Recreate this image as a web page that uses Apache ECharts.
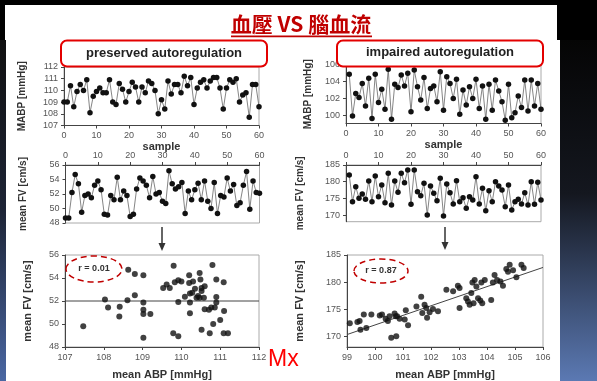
<!DOCTYPE html>
<html>
<head>
<meta charset="utf-8">
<script src="https://cdn.jsdelivr.net/npm/echarts@6/dist/echarts.min.js"></script>
<style>
html, body { margin: 0; padding: 0; background: #000; }
#chart { width: 597px; height: 381px; }
</style>
</head>
<body>
<div id="chart"></div>
<script>
// ---- data ----
// MABP per sample, preserved autoregulation (samples 0..60)
const mabpPreserved = [109.0, 109.0, 110.4, 108.6, 109.9, 110.5, 110.0, 110.9, 108.1, 109.5,
  109.9, 110.2, 109.8, 109.8, 110.9, 109.0, 108.8, 110.6, 110.1, 109.0,
  109.9, 110.7, 110.3, 109.0, 110.3, 109.8, 110.8, 110.6, 110.0, 108.0,
  109.2, 108.4, 110.8, 109.7, 110.5, 110.5, 109.8, 111.2, 110.4, 111.1,
  108.8, 110.2, 110.7, 110.9, 110.2, 110.8, 111.1, 111.1, 110.2, 108.4,
  110.2, 110.9, 110.7, 111.0, 109.0, 109.6, 109.8, 107.7, 110.5, 110.5, 108.6];
// mean FV per sample, preserved autoregulation (samples 0..60)
const fvPreserved = [48.7, 48.7, 52.2, 54.7, 53.4, 49.5, 51.8, 52.0, 51.5, 53.2,
  53.8, 52.6, 49.2, 49.1, 51.8, 51.2, 54.3, 51.2, 52.4, 51.8,
  48.9, 49.2, 52.7, 54.2, 53.8, 53.2, 51.5, 54.4, 52.0, 52.2,
  51.0, 50.7, 55.2, 53.4, 52.7, 53.0, 53.6, 49.3, 52.4, 51.2,
  52.6, 53.5, 51.2, 53.8, 51.0, 50.0, 53.6, 49.3, 51.8, 51.6,
  54.2, 52.4, 53.3, 50.4, 50.8, 53.2, 55.1, 49.9, 53.8, 52.2, 52.1];
// MABP per sample, impaired autoregulation (samples 1..60)
const mabpImpaired = [104.9, 99.9, 102.6, 102.1, 103.8, 101.1, 104.4, 99.6, 104.9, 101.5,
  103.1, 100.7, 105.5, 99.5, 103.7, 103.3, 104.8, 103.5, 105.0, 100.4,
  105.4, 103.4, 101.8, 104.5, 100.8, 103.2, 103.5, 101.6, 105.2, 100.6,
  104.6, 103.8, 102.0, 104.3, 100.1, 103.0, 101.2, 103.4, 102.0, 104.3,
  100.8, 103.5, 99.5, 103.7, 100.6, 104.2, 102.9, 101.6, 99.4, 103.7,
  99.7, 100.3, 102.3, 100.9, 104.2, 100.5, 104.2, 101.1, 103.8, 100.7];
// mean FV per sample, impaired autoregulation (samples 1..60)
const fvImpaired = [182.0, 174.0, 178.5, 175.0, 176.3, 174.7, 180.2, 174.0, 181.7, 175.5,
  179.0, 173.7, 182.5, 173.0, 180.2, 176.8, 182.5, 179.7, 183.5, 173.2,
  183.5, 177.0, 175.8, 179.5, 170.0, 178.7, 176.5, 174.3, 181.0, 169.7,
  179.3, 176.7, 173.3, 180.3, 174.0, 175.2, 172.0, 175.5, 174.5, 181.5,
  173.3, 178.0, 171.3, 177.3, 174.0, 180.0, 178.7, 177.5, 172.5, 179.0,
  171.5, 174.0, 174.7, 173.3, 176.7, 173.0, 180.0, 173.2, 179.8, 174.5];

// scatter: mean ABP vs mean FV, preserved
const abpPreserved = [107.47, 108.03, 108.11, 108.4, 108.41, 108.61, 108.63, 108.8, 108.8, 109.02,
  109.02, 109.02, 109.02, 109.02, 109.2, 109.53, 109.62, 109.7, 109.8, 109.83,
  109.92, 109.92, 109.79, 109.92, 110.0, 110.09, 110.2, 110.2, 110.22, 110.22,
  110.22, 110.28, 110.3, 110.35, 110.39, 110.43, 110.47, 110.47, 110.49, 110.52,
  110.52, 110.52, 110.58, 110.6, 110.6, 110.71, 110.73, 110.77, 110.8, 110.82,
  110.86, 110.9, 110.9, 110.9, 111.0, 111.09, 111.1, 111.09, 111.2];
const meanFvPreserved = [49.8, 52.14, 51.43, 50.66, 51.51, 52.06, 54.71, 52.51, 54.34, 54.23,
  51.86, 51.23, 50.86, 48.8, 50.86, 53.14, 53.43, 53.14, 55.06, 53.63,
  53.8, 51.91, 49.2, 48.94, 53.7, 52.37, 54.23, 53.57, 52.66, 51.86,
  50.94, 52.71, 53.7, 53.06, 52.29, 52.43, 52.29, 54.43, 53.86, 52.86,
  53.14, 49.51, 52.29, 53.29, 51.29, 51.23, 49.2, 51.43, 55.14, 50.0,
  51.43, 53.86, 52.34, 51.86, 50.34, 53.63, 51.14, 49.2, 49.2];
// scatter: mean ABP vs mean FV, impaired
const abpImpaired = [99.1, 99.37, 99.45, 99.48, 99.6, 99.69, 99.87, 100.17, 100.25, 100.38,
  100.46, 100.52, 100.58, 100.7, 100.74, 100.76, 100.79, 100.88, 101.06, 101.1,
  101.18, 101.48, 101.65, 101.69, 101.77, 101.83, 101.86, 101.95, 102.07, 102.25,
  102.55, 102.79, 102.96, 103.02, 103.02, 103.26, 103.32, 103.38, 103.44, 103.48,
  103.52, 103.56, 103.62, 103.68, 103.76, 103.8, 103.83, 103.92, 104.15, 104.21,
  104.27, 104.36, 104.48, 104.57, 104.69, 104.75, 104.81, 104.93, 105.05, 105.23, 105.31];
const meanFvImpaired = [172.4, 172.6, 172.8, 171.2, 174.0, 171.5, 174.0, 173.8, 174.0, 173.2,
  172.8, 173.7, 169.7, 174.2, 173.7, 170.0, 173.7, 173.2, 173.1, 174.8,
  172.0, 175.5, 177.3, 174.3, 175.8, 175.2, 173.4, 174.4, 175.0, 174.6,
  178.6, 178.3, 179.3, 178.9, 175.2, 177.0, 176.4, 175.8, 178.0, 179.9,
  176.1, 180.4, 179.2, 177.0, 176.6, 179.9, 176.1, 180.4, 176.7, 179.9,
  181.3, 180.4, 180.1, 179.3, 182.4, 181.9, 183.2, 182.2, 180.9, 183.2, 182.6];

// reference lines: mean level (preserved) and regression fit (impaired)
const meanLinePreserved = { abp: [107, 112], fv: [52, 52] };
const fitLineImpaired = { abp: [99, 106], fv: [170.3, 182.7] };

const corrPreserved = 'r = 0.01';
const corrImpaired = 'r = 0.87';

// tick values
const sampleTicks = { min: 0, max: 60, interval: 10 };
const impairedMabpTicks = [100, 102, 104, 106];
const impairedFvTicks = [170, 175, 180, 185];

// ---- helpers ----
const pairs = (xs, ys) => xs.map((x, i) => [x, ys[i]]);
const indexed = (vals, start) => vals.map((v, i) => [start + i, v]);

const SANS = 'Liberation Sans, Arial, sans-serif';
const tickLabel = { fontFamily: SANS, fontSize: 9, color: '#555', margin: 6 };
const nameStyle = { fontFamily: SANS, fontSize: 11, fontWeight: 'bold', color: '#333' };
const nameStyleSmall = Object.assign({}, nameStyle, { fontSize: 10 });

function axis(extra) {
  const a = {
    type: 'value',
    nameLocation: 'middle',
    nameTextStyle: nameStyle,
    axisLine: { show: true, onZero: false, lineStyle: { color: '#444', width: 1 } },
    axisTick: { show: true, length: 3, lineStyle: { color: '#444' } },
    axisLabel: Object.assign({}, tickLabel),
    splitLine: { show: false }
  };
  for (const k in extra) {
    if (typeof extra[k] === 'object' && !Array.isArray(extra[k]) && a[k]) {
      a[k] = Object.assign({}, a[k], extra[k]);
    } else {
      a[k] = extra[k];
    }
  }
  return a;
}

const gridBase = { show: true, borderColor: '#aaa', borderWidth: 1, backgroundColor: 'transparent' };
const grids = [
  Object.assign({ left: 64, top: 67, width: 195, height: 58.5 }, gridBase),
  Object.assign({ left: 65.5, top: 165, width: 194, height: 58 }, gridBase),
  Object.assign({ left: 65, top: 255, width: 194, height: 93 }, gridBase),
  Object.assign({ left: 346, top: 65, width: 195, height: 58.5 }, gridBase),
  Object.assign({ left: 346, top: 165, width: 195, height: 56.7 }, gridBase),
  Object.assign({ left: 347, top: 255, width: 196, height: 92.5 }, gridBase)
];

const xAxes = [
  axis({ gridIndex: 0, min: sampleTicks.min, max: sampleTicks.max, interval: sampleTicks.interval, name: 'sample', nameGap: 14 }),
  axis({ gridIndex: 1, position: 'top', min: sampleTicks.min, max: sampleTicks.max, interval: sampleTicks.interval, axisLabel: { margin: 5 } }),
  axis({ gridIndex: 2, min: 107, max: 112, interval: 1, name: 'mean ABP [mmHg]', nameGap: 22 }),
  axis({ gridIndex: 3, min: sampleTicks.min, max: sampleTicks.max, interval: sampleTicks.interval, name: 'sample', nameGap: 14 }),
  axis({ gridIndex: 4, position: 'top', min: sampleTicks.min, max: sampleTicks.max, interval: sampleTicks.interval, axisLabel: { margin: 5 } }),
  axis({ gridIndex: 5, min: 99, max: 106, interval: 1, name: 'mean ABP [mmHg]', nameGap: 22 })
];

const yAxes = [
  axis({ gridIndex: 0, min: 107, max: 112, interval: 1, name: 'MABP [mmHg]', nameGap: 37, nameTextStyle: nameStyleSmall }),
  axis({ gridIndex: 1, min: 48, max: 56, interval: 2, name: 'mean FV [cm/s]', nameGap: 37, nameTextStyle: nameStyleSmall }),
  axis({ gridIndex: 2, min: 48, max: 56, interval: 2, name: 'mean FV [cm/s]', nameGap: 32 }),
  axis({ gridIndex: 3, min: 99, max: 106, name: 'MABP [mmHg]', nameGap: 33, nameTextStyle: nameStyleSmall,
    axisLabel: { customValues: impairedMabpTicks }, axisTick: { customValues: impairedMabpTicks } }),
  axis({ gridIndex: 4, min: 168, max: 185, name: 'mean FV [cm/s]', nameGap: 41, nameTextStyle: nameStyleSmall,
    axisLabel: { customValues: impairedFvTicks }, axisTick: { customValues: impairedFvTicks } }),
  axis({ gridIndex: 5, min: 168, max: 185, name: 'mean FV [cm/s]', nameGap: 42,
    axisLabel: { customValues: impairedFvTicks }, axisTick: { customValues: impairedFvTicks } })
];

function traceSeries(idx, data) {
  return {
    type: 'line', xAxisIndex: idx, yAxisIndex: idx, data,
    symbol: 'circle', symbolSize: 5.5, showAllSymbol: true,
    lineStyle: { color: '#666', width: 0.8 },
    itemStyle: { color: '#111' },
    silent: true, animation: false
  };
}
function scatterSeries(idx, data) {
  return {
    type: 'scatter', xAxisIndex: idx, yAxisIndex: idx, data,
    symbolSize: 6, itemStyle: { color: '#111' }, silent: true, animation: false
  };
}
function refLine(idx, line) {
  return {
    type: 'line', xAxisIndex: idx, yAxisIndex: idx, data: pairs(line.abp, line.fv),
    symbol: 'none', lineStyle: { color: '#444', width: 1 }, silent: true, animation: false, z: 1
  };
}

// ---- page decoration: slide background, headings, arrows ----
const graphics = [
  // slide surface
  { type: 'rect', z: -10, shape: { x: 5, y: 5, width: 552, height: 36 }, style: { fill: '#fff' } },
  { type: 'rect', z: -10, shape: { x: 6, y: 40, width: 554, height: 341 }, style: { fill: '#fff' } },
  { type: 'rect', z: -10, shape: { x: 0, y: 40, width: 6, height: 341 },
    style: { fill: new echarts.graphic.LinearGradient(0, 0, 0, 1, [
      { offset: 0, color: '#101010' }, { offset: 0.5, color: '#1d2436' }, { offset: 1, color: '#4a67a3' }]) } },
  { type: 'rect', z: -10, shape: { x: 560, y: 40, width: 37, height: 341 },
    style: { fill: new echarts.graphic.LinearGradient(0, 0, 0, 1, [
      { offset: 0, color: '#050505' }, { offset: 0.45, color: '#14171f' }, { offset: 1, color: '#5b79b3' }]) } },
  // heading
  { type: 'text', z: 10, style: { text: '血壓 VS 腦血流', x: 301, y: 24, align: 'center', verticalAlign: 'middle',
      font: 'bold 21px "Noto Sans CJK TC"', fill: '#c00000' } },
  { type: 'rect', z: 10, shape: { x: 231, y: 35.5, width: 141, height: 1.8 }, style: { fill: '#c00000' } },
  // panel headings
  { type: 'rect', z: 10, shape: { x: 61, y: 40.5, width: 206, height: 26, r: 6 },
    style: { fill: '#fff', stroke: '#e30000', lineWidth: 2 } },
  { type: 'text', z: 11, style: { text: 'preserved autoregulation', x: 164, y: 53, align: 'center', verticalAlign: 'middle',
      font: 'bold 13px "Liberation Sans"', fill: '#222' } },
  { type: 'rect', z: 10, shape: { x: 337, y: 40.5, width: 206, height: 26, r: 6 },
    style: { fill: '#fff', stroke: '#e30000', lineWidth: 2 } },
  { type: 'text', z: 11, style: { text: 'impaired autoregulation', x: 440, y: 52, align: 'center', verticalAlign: 'middle',
      font: 'bold 13px "Liberation Sans"', fill: '#222' } },
  // arrows between rows
  { type: 'line', z: 10, shape: { x1: 162, y1: 227, x2: 162, y2: 245 }, style: { stroke: '#333', lineWidth: 1.5 } },
  { type: 'polygon', z: 10, shape: { points: [[158.5, 243], [165.5, 243], [162, 251]] }, style: { fill: '#333' } },
  { type: 'line', z: 10, shape: { x1: 445, y1: 227, x2: 445, y2: 244 }, style: { stroke: '#333', lineWidth: 1.5 } },
  { type: 'polygon', z: 10, shape: { points: [[441.5, 242], [448.5, 242], [445, 250]] }, style: { fill: '#333' } },
  // correlation notes
  { type: 'ellipse', z: 10, shape: { cx: 94, cy: 269, rx: 28, ry: 13 },
    style: { fill: 'none', stroke: '#c00000', lineWidth: 1.5, lineDash: [6, 4] } },
  { type: 'text', z: 11, style: { text: corrPreserved, x: 94, y: 269, align: 'center', verticalAlign: 'middle',
      font: 'bold 9px "Liberation Sans"', fill: '#333' } },
  { type: 'ellipse', z: 10, shape: { cx: 381, cy: 271, rx: 27, ry: 12 },
    style: { fill: 'none', stroke: '#c00000', lineWidth: 1.5, lineDash: [6, 4] } },
  { type: 'text', z: 11, style: { text: corrImpaired, x: 381, y: 271, align: 'center', verticalAlign: 'middle',
      font: 'bold 9px "Liberation Sans"', fill: '#333' } },
  // index label
  { type: 'text', z: 11, style: { text: 'Mx', x: 268, y: 360, align: 'left', verticalAlign: 'middle',
      font: '23px "Liberation Sans"', fill: '#ff0000' } }
];

const chart = echarts.init(document.getElementById('chart'), null, { renderer: 'canvas' });
chart.setOption({
  backgroundColor: '#000',
  animation: false,
  grid: grids,
  xAxis: xAxes,
  yAxis: yAxes,
  series: [
    traceSeries(0, indexed(mabpPreserved, 0)),
    traceSeries(1, indexed(fvPreserved, 0)),
    refLine(2, meanLinePreserved),
    scatterSeries(2, pairs(abpPreserved, meanFvPreserved)),
    traceSeries(3, indexed(mabpImpaired, 1)),
    traceSeries(4, indexed(fvImpaired, 1)),
    refLine(5, fitLineImpaired),
    scatterSeries(5, pairs(abpImpaired, meanFvImpaired))
  ],
  graphic: { elements: graphics }
});
</script>
</body>
</html>
